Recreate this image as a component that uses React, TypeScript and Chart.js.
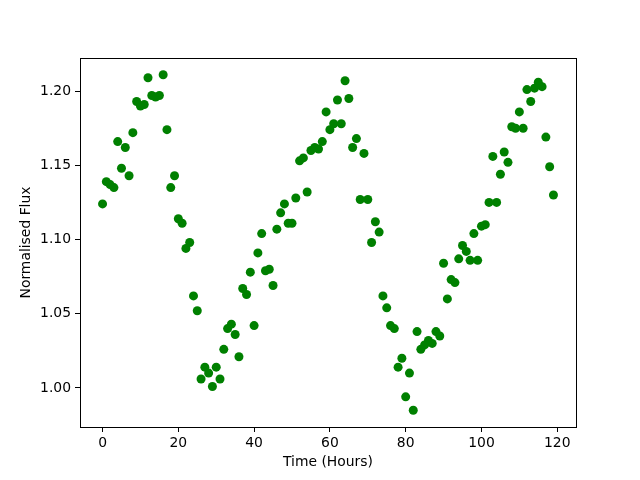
import React, { useEffect, useRef } from "react";
import { Chart, registerables } from "chart.js";

Chart.register(...registerables);

const hours: number[] = Array.from({ length: 120 }, (_, i) => i);

const flux: number[] = [
  1.124, 1.139, 1.137, 1.135, 1.166, 1.148, 1.162, 1.143, 1.172, 1.193,
  1.19, 1.191, 1.209, 1.197, 1.196, 1.197, 1.211, 1.174, 1.135, 1.143,
  1.114, 1.111, 1.094, 1.098, 1.062, 1.052, 1.006, 1.014, 1.01, 1.001,
  1.014, 1.006, 1.026, 1.04, 1.043, 1.036, 1.021, 1.067, 1.063, 1.078,
  1.042, 1.091, 1.104, 1.079, 1.08, 1.069, 1.107, 1.118, 1.124, 1.111,
  1.111, 1.128, 1.153, 1.155, 1.132, 1.16, 1.162, 1.161, 1.166, 1.186,
  1.174, 1.178, 1.194, 1.178, 1.207, 1.195, 1.162, 1.168, 1.127, 1.158,
  1.127, 1.098, 1.112, 1.105, 1.062, 1.054, 1.042, 1.04, 1.014, 1.02,
  0.994, 1.01, 0.985, 1.038, 1.026, 1.029, 1.032, 1.03, 1.038, 1.035,
  1.084, 1.06, 1.073, 1.071, 1.087, 1.096, 1.092, 1.086, 1.104, 1.086,
  1.109, 1.11, 1.125, 1.156, 1.125, 1.144, 1.159, 1.152, 1.176, 1.175,
  1.186, 1.175, 1.201, 1.193, 1.202, 1.206, 1.203, 1.169, 1.149, 1.13,
];

const xTicks: number[] = [0, 20, 40, 60, 80, 100, 120];
const yTicks: number[] = [1.0, 1.05, 1.1, 1.15, 1.2];

const FONT = "'DejaVu Sans', sans-serif";

const frame = {
  id: "frame",
  afterDraw(chart: any) {
    const { ctx, chartArea } = chart;
    ctx.save();
    ctx.strokeStyle = "#000";
    ctx.lineWidth = 1;
    ctx.strokeRect(
      Math.round(chartArea.left) + 0.5,
      Math.round(chartArea.top) + 0.5,
      Math.round(chartArea.right - chartArea.left),
      Math.round(chartArea.bottom - chartArea.top)
    );
    ctx.restore();
  },
};

export default function App() {
  const ref = useRef<HTMLCanvasElement>(null);

  useEffect(() => {
    if (!ref.current) return;
    const xMinD = Math.min(...hours);
    const xMaxD = Math.max(...hours);
    const yMinD = Math.min(...flux);
    const yMaxD = Math.max(...flux);
    const xm = (xMaxD - xMinD) * 0.05;
    const ym = (yMaxD - yMinD) * 0.05;

    const chart = new Chart(ref.current, {
      type: "scatter",
      data: {
        datasets: [
          {
            data: hours.map((h, i) => ({ x: h, y: flux[i] })),
            backgroundColor: "#008000",
            borderColor: "#008000",
            pointRadius: 4.5,
            pointHoverRadius: 4.5,
            borderWidth: 0,
          },
        ],
      },
      options: {
        responsive: false,
        animation: false,
        events: [],
        layout: { padding: { left: 0, right: 64, top: 58, bottom: 0 } },
        plugins: { legend: { display: false }, tooltip: { enabled: false } },
        scales: {
          x: {
            type: "linear",
            min: xMinD - xm,
            max: xMaxD + xm,
            afterFit: (s: any) => {
              s.height = 53;
            },
            afterBuildTicks: (s: any) => {
              s.ticks = xTicks.map((v) => ({ value: v }));
            },
            grid: {
              drawOnChartArea: false,
              drawTicks: true,
              tickLength: 5,
              color: "#000",
            },
            border: { display: false },
            ticks: {
              color: "#000",
              font: { family: FONT, size: 13.9 },
              padding: 3,
              maxRotation: 0,
              callback: (v: any) => String(v),
            },
            title: {
              display: true,
              text: "Time (Hours)",
              color: "#000",
              font: { family: FONT, size: 13.9 },
              padding: { top: 0, bottom: 9 },
            },
          },
          y: {
            type: "linear",
            min: yMinD - ym,
            max: yMaxD + ym,
            afterFit: (s: any) => {
              s.width = 80;
            },
            afterBuildTicks: (s: any) => {
              s.ticks = yTicks.map((v) => ({ value: v }));
            },
            grid: {
              drawOnChartArea: false,
              drawTicks: true,
              tickLength: 5,
              color: "#000",
            },
            border: { display: false },
            ticks: {
              color: "#000",
              font: { family: FONT, size: 13.9 },
              padding: 4,
              callback: (v: any) => Number(v).toFixed(2),
            },
            title: {
              display: true,
              text: "Normalised Flux",
              color: "#000",
              font: { family: FONT, size: 13.9 },
              padding: { top: 18, bottom: 0 },
            },
          },
        },
      },
      plugins: [frame],
    });
    return () => chart.destroy();
  }, []);

  return (
    <div style={{ position: "absolute", left: 0, top: 0, width: 640, height: 480, background: "#fff" }}>
      <canvas ref={ref} width={640} height={480} />
    </div>
  );
}
